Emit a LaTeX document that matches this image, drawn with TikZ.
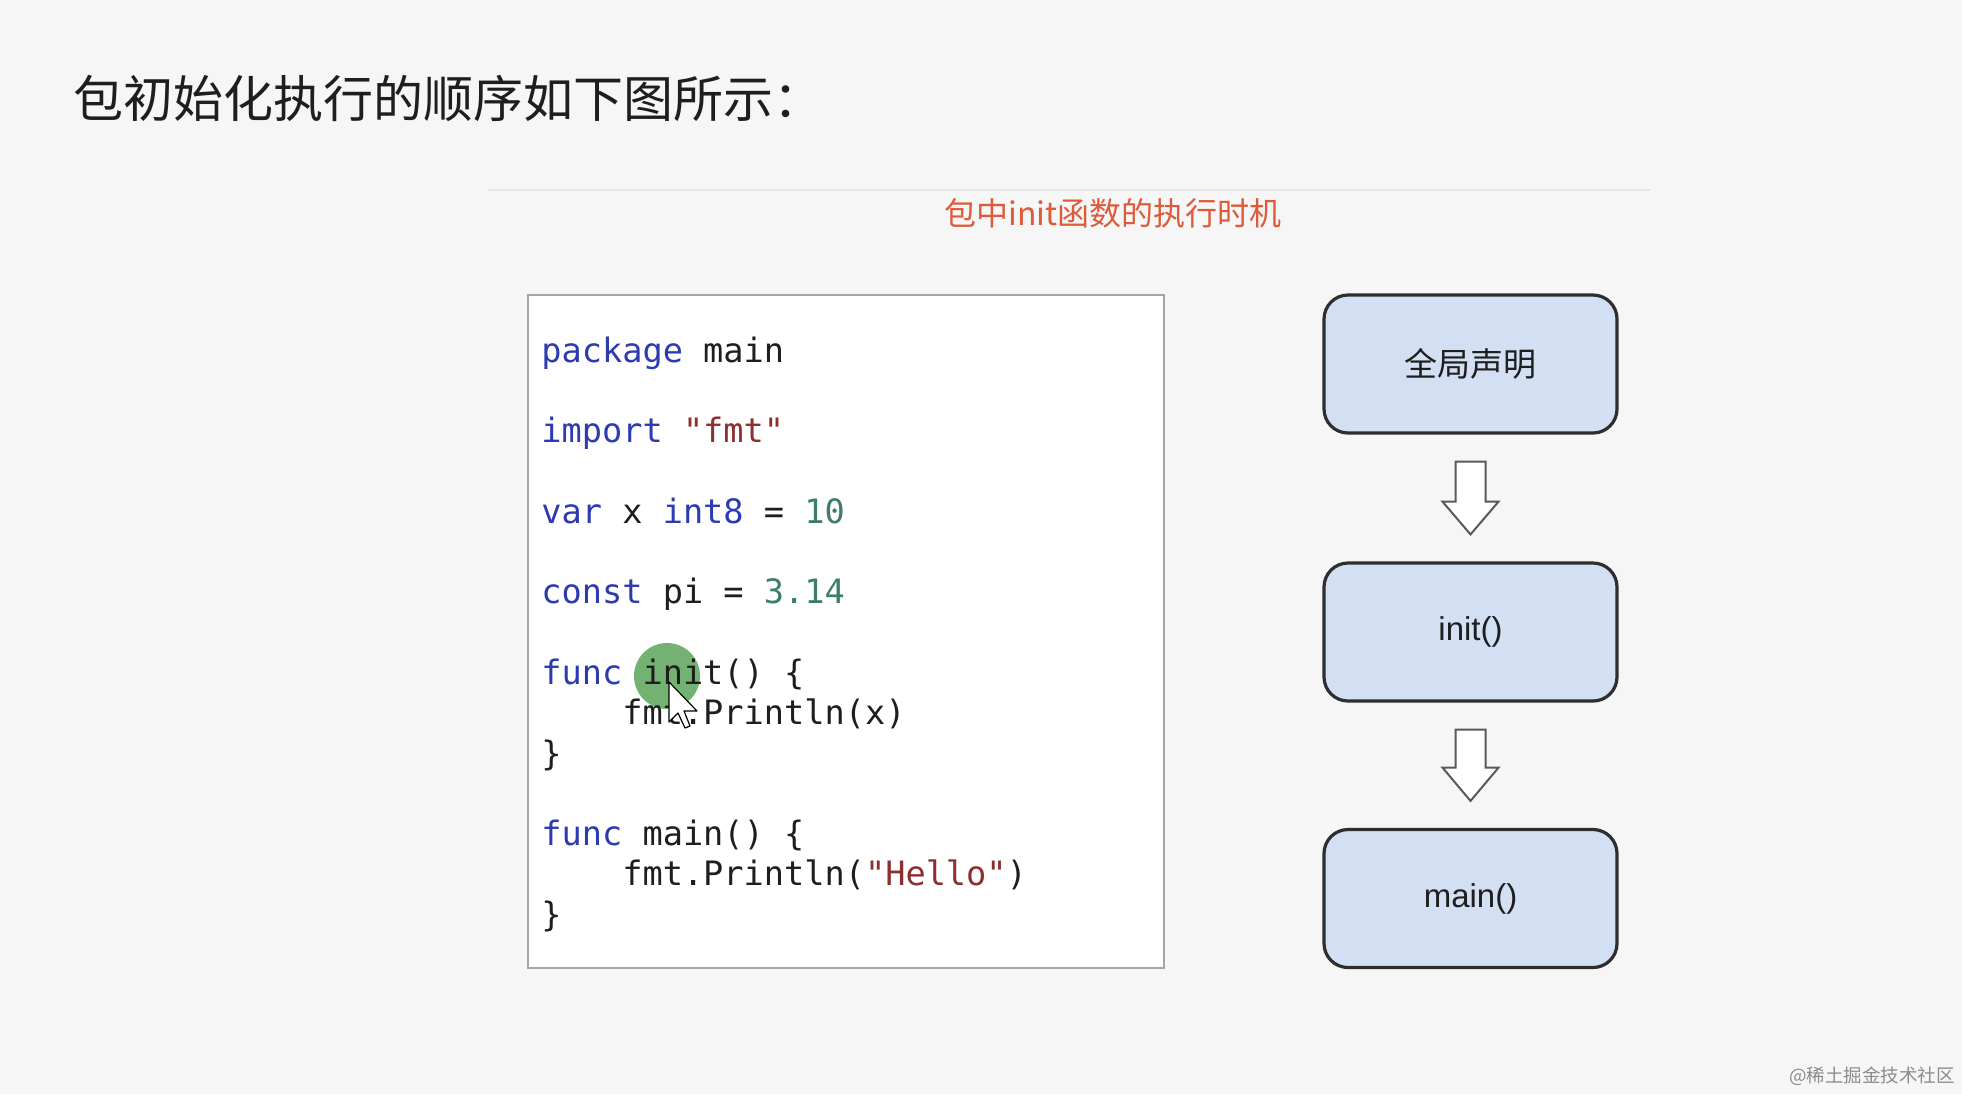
\documentclass[tikz,border=0pt]{standalone}
\usepackage{fontspec}
\setmainfont{Liberation Sans}
\setmonofont{DejaVu Sans Mono}
\newfontfamily\cjk{Noto Sans CJK SC}
\usetikzlibrary{calc}
\definecolor{bg}{HTML}{F6F6F6}
\definecolor{kwc}{HTML}{2D3BB0}
\definecolor{strc}{HTML}{8E2F2F}
\definecolor{numc}{HTML}{3E7D6C}
\definecolor{ink}{HTML}{1E1E1E}
\definecolor{boxfill}{HTML}{D3E0F3}
\definecolor{boxline}{HTML}{2E2E2E}
\definecolor{ttl}{HTML}{DD5B3A}
\newcommand\kwd[1]{\textcolor{kwc}{#1}}
\newcommand\strg[1]{\textcolor{strc}{#1}}
\newcommand\numb[1]{\textcolor{numc}{#1}}
\begin{document}
\begin{tikzpicture}[x=0.5pt,y=-0.5pt,
  codeline/.style={anchor=base west, inner sep=0pt, font=\fontsize{16.8}{20}\ttfamily, text=ink},
  flow/.style={draw=boxline, line width=1.6pt, fill=boxfill, rounded corners=12pt,
    minimum width=146.5pt, minimum height=69pt, inner sep=0pt,
    font=\fontsize{16.5}{20}\selectfont, text=ink},
  hollow/.style={draw=black!65, line width=1pt, fill=white, line join=miter}]
\useasboundingbox (0,0) rectangle (1962,1094);
\fill[bg] (0,0) rectangle (1962,1094);

% heading
\node[anchor=west, inner sep=0pt, font=\fontsize{25}{29}\cjk, text=ink] (heading) at (73,98) {包初始化执行的顺序如下图所示：};
\draw[black!10, line width=0.75pt] (488,190) -- (1650,190);
\node[inner sep=0pt, font=\fontsize{16}{19}\cjk, text=ttl] (subtitle) at (1113,213) {包中init函数的执行时机};

% code box
\node[draw=black!35, line width=1pt, fill=white, minimum width=318pt, minimum height=336.5pt, inner sep=0pt] (codebox) at (846,631.5) {};
\fill[green!45!black, opacity=0.55] (667,676) circle[radius=16.5pt];

\node[codeline] (l1) at (541,362) {\kwd{package} main};
\node[codeline] (l2) at (541,442.6) {\kwd{import} \strg{"fmt"}};
\node[codeline] (l3) at (541,523) {\kwd{var} x \kwd{int8} = \numb{10}};
\node[codeline] (l4) at (541,603.8) {\kwd{const} pi = \numb{3.14}};
\node[codeline] (l5) at (541,684.4) {\kwd{func} init() \{};
\node[codeline] (l6) at (541,724.7) {\hphantom{0000}fmt.Println(x)};
\node[codeline] (l7) at (541,765) {\}};
\node[codeline] (l8) at (541,845.6) {\kwd{func} main() \{};
\node[codeline] (l9) at (541,885.9) {\hphantom{0000}fmt.Println(\strg{"Hello"})};
\node[codeline] (l10) at (541,926.2) {\}};

% cursor
\draw[fill=white, line width=0.6pt, line join=round] (669,682) -- (669,722) -- (678,713) -- (685,728) -- (690,726) -- (684,711) -- (697,711) -- cycle;

% flow boxes
\node[flow] (b1) at (1470.5,364) {\cjk 全局声明};
\node[flow] (b2) at (1470.5,632) {init()};
\node[flow] (b3) at (1470.5,898.5) {main()};

% hollow arrows
\draw[hollow] ($(b1.south)+(-15,27)$) -- ($(b1.south)+(15,27)$) -- ($(b1.south)+(15,67)$) -- ($(b1.south)+(28,67)$) -- ($(b2.north)+(0,-27)$) -- ($(b1.south)+(-28,67)$) -- ($(b1.south)+(-15,67)$) -- cycle;
\draw[hollow] ($(b2.south)+(-15,27)$) -- ($(b2.south)+(15,27)$) -- ($(b2.south)+(15,65)$) -- ($(b2.south)+(28,65)$) -- ($(b3.north)+(0,-27)$) -- ($(b2.south)+(-28,65)$) -- ($(b2.south)+(-15,65)$) -- cycle;

% watermark
\node[anchor=east, inner sep=0pt, font=\fontsize{9.25}{11}\cjk, text=black!45] (wm) at (1955,1076) {@稀土掘金技术社区};
\end{tikzpicture}
\end{document}
